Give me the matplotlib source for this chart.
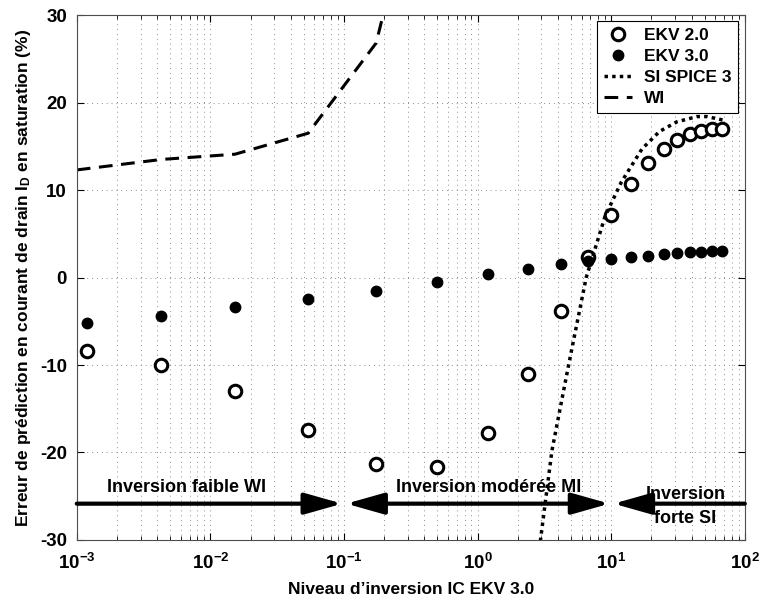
import numpy as np
import matplotlib
matplotlib.use('Agg')
import matplotlib.pyplot as plt

plt.rcParams['font.family'] = ['Liberation Sans', 'DejaVu Sans']
plt.rcParams['font.weight'] = 'bold'
plt.rcParams['axes.unicode_minus'] = False
plt.rcParams['mathtext.fontset'] = 'custom'
plt.rcParams['mathtext.rm'] = 'Liberation Sans:bold'
plt.rcParams['mathtext.it'] = 'Liberation Sans:bold'
plt.rcParams['mathtext.bf'] = 'Liberation Sans:bold'

# inversion levels (IC) shared by both EKV series
ic = [0.0012, 0.0043, 0.0153, 0.054, 0.174, 0.5, 1.2, 2.39, 4.2, 6.7,
      10, 14.1, 18.9, 25, 31, 39, 47, 57, 68]
ekv2 = [-8.4, -10.0, -13.0, -17.4, -21.3, -21.7, -17.8, -11.0, -3.8, 2.4,
        7.1, 10.7, 13.1, 14.7, 15.7, 16.4, 16.8, 17.0, 17.0]
ekv3 = [-5.2, -4.4, -3.4, -2.45, -1.5, -0.5, 0.45, 1.0, 1.5, 1.85,
        2.15, 2.4, 2.5, 2.7, 2.75, 2.9, 2.9, 3.0, 3.0]

# SI SPICE 3 model curve
ic_si = [2.9, 3.6, 4.8, 6.5, 9.0, 11.9, 17, 23, 31, 44, 52, 69]
err_si = [-31, -19.8, -10, 0, 7.0, 10.9, 14.7, 16.7, 17.8, 18.4, 18.4, 18.0]

# WI model curve
ic_wi = [0.001, 0.0043, 0.0153, 0.054, 0.174, 0.5]
err_wi = [12.3, 13.5, 14.1, 16.5, 26.8, 55]

fig = plt.figure(figsize=(7.6, 6.04), dpi=100)
ax = fig.add_axes([0.101, 0.106, 0.879, 0.869])

ax.plot(ic, ekv2, 'o', mfc='white', mec='black', mew=2.2, ms=9, ls='none', label='EKV 2.0')
ax.plot(ic, ekv3, 'o', mfc='black', mec='black', ms=7.5, ls='none', label='EKV 3.0')
ax.plot(ic_si, err_si, color='black', lw=2.5, ls=(0, (1, 1.2)), label='SI SPICE 3')
ax.plot(ic_wi, err_wi, color='black', lw=2.2, ls=(0, (4.5, 2.8)), label='WI')

ax.set_xscale('log')
ax.set_xlim(1e-3, 1e2)
ax.set_ylim(-30, 30)
ax.set_yticks([-30, -20, -10, 0, 10, 20, 30])

ax.grid(True, which='major', axis='both', color='0.55', lw=0.7, ls=(0, (1, 4)))
ax.grid(True, which='minor', axis='x', color='0.55', lw=0.7, ls=(0, (1, 4)))
ax.tick_params(which='both', direction='in', top=True, right=True, labelsize=13.5)
ax.tick_params(axis='x', which='major', pad=9)
ax.tick_params(axis='y', which='major', pad=7)
ax.tick_params(which='major', length=5)
ax.tick_params(which='minor', length=3)
for s in ax.spines.values():
    s.set_color('0.3')

ax.set_xlabel("Niveau d\u2019inversion IC EKV 3.0", fontsize=12.5, fontweight='bold', labelpad=7)
ax.set_ylabel(r'Erreur de prédiction en courant de drain I$_\mathrm{D}$ en saturation (%)',
              fontsize=12.5, fontweight='bold', labelpad=5)

# region arrows
ya = -25.85
hs = 'head_length=2.3,head_width=0.65'
akw = dict(lw=3, color='black', shrinkA=0, shrinkB=0, mutation_scale=10)
ax.annotate('', xy=(0.097, ya), xytext=(1e-3, ya),
            arrowprops=dict(arrowstyle='-|>,' + hs, **akw))
ax.annotate('', xy=(9.7, ya), xytext=(0.104, ya),
            arrowprops=dict(arrowstyle='<|-|>,' + hs, **akw))
ax.annotate('', xy=(10.4, ya), xytext=(1e2, ya),
            arrowprops=dict(arrowstyle='-|>,' + hs, **akw))

ax.text(0.0066, -24.5, 'Inversion faible WI', fontsize=13, fontweight='bold', ha='center', va='baseline')
ax.text(1.22, -24.5, 'Inversion modérée MI', fontsize=13, fontweight='bold', ha='center', va='baseline')
ax.text(36, -25.3, 'Inversion', fontsize=13, fontweight='bold', ha='center', va='baseline')
ax.text(36, -26.6, 'forte SI', fontsize=13, fontweight='bold', ha='center', va='top')

leg = ax.legend(loc='upper right', bbox_to_anchor=(0.99, 0.988), fontsize=12.5, frameon=True,
                fancybox=False, edgecolor='black', framealpha=1, borderaxespad=0,
                handlelength=1.6, handletextpad=0.7, borderpad=0.4, labelspacing=0.32)
leg.get_frame().set_linewidth(0.8)

fig.savefig('out.png', dpi=100)
